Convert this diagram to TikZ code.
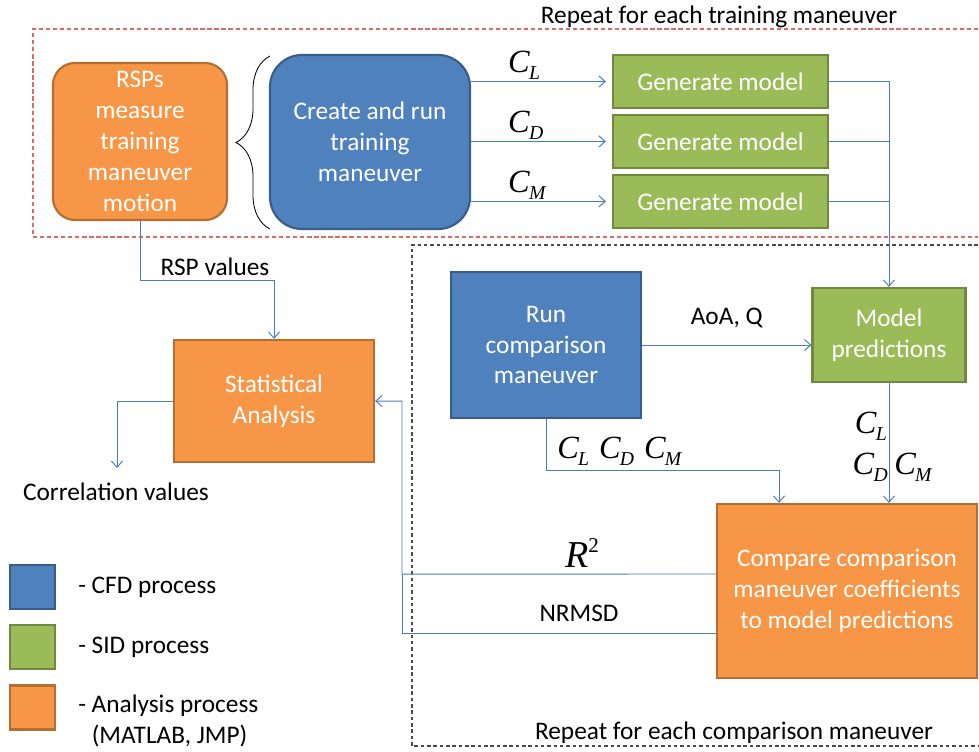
\documentclass[tikz,border=0pt]{standalone}
\usepackage{fontspec}
\setmainfont{Carlito}
\newfontfamily\tnr{Liberation Serif}
\usetikzlibrary{arrows.meta, positioning, decorations.pathreplacing}

\definecolor{cfdfill}{HTML}{4F81BD}
\definecolor{cfdline}{HTML}{385D8A}
\definecolor{sidfill}{HTML}{9BBB59}
\definecolor{sidline}{HTML}{71893F}
\definecolor{anafill}{HTML}{F79646}
\definecolor{analine}{HTML}{B66D31}
\definecolor{flowblue}{HTML}{4A7EBB}
\definecolor{loopred}{HTML}{D86A6A}
\definecolor{loopgray}{HTML}{4A4A4A}

% aerodynamic coefficient C with subscript
\newcommand\coef[1]{{\tnr\itshape\fontsize{23}{23}\selectfont C\kern-0.5pt\raisebox{-5pt}{\fontsize{14}{14}\selectfont #1}}}

\begin{document}
\begin{tikzpicture}[
      x=0.025cm, y=-0.025cm,
      every node/.style={font=\fontsize{18}{22}\selectfont},
      box/.style={rectangle, line width=1.5pt, text=white, align=center, inner sep=0pt},
      cfd/.style={box, fill=cfdfill, draw=cfdline},
      sid/.style={box, fill=sidfill, draw=sidline},
      ana/.style={box, fill=anafill, draw=analine},
      flow/.style={draw=flowblue, line width=0.7pt, -{Straight Barb[length=4.5pt,width=8pt]}},
      link/.style={draw=flowblue, line width=0.7pt},
      key/.style={minimum width=1.125cm, minimum height=1.1cm, line width=2pt},
      gen/.style={sid, minimum width=5.375cm, minimum height=1.325cm}
    ]
    \useasboundingbox (0,0) rectangle (979,751);

    % Loop frames
    \draw[loopred, line width=0.8pt, dash pattern=on 3pt off 2pt]
      (978,29) -- (33,29) -- (33,237) -- (978,237);
    \draw[loopgray, line width=0.75pt, dash pattern=on 2.5pt off 2pt]
      (978,245) -- (412,245) -- (412,746) -- (978,746);
    \node (trainlabel) at (719,17) {Repeat for each training maneuver};
    \node (cmplabel) at (734,733) {Repeat for each comparison maneuver};

    % Nodes
    \node[ana, rounded corners=0.55cm, minimum width=4.35cm, minimum height=3.925cm]
      (rsp) at (140,141.5) {RSPs\\ measure\\ training\\ maneuver\\ motion};
    \node[cfd, rounded corners=0.8cm, minimum width=5cm, minimum height=4.35cm]
      (create) at (370,142) {Create and run\\ training\\ maneuver};
    \node[gen] (gen1) at (720.5,81.5) {Generate model};
    \node[gen, below=0.12cm of gen1] (gen2) {Generate model};
    \node[gen, below=0.12cm of gen2] (gen3) {Generate model};
    \node[cfd, minimum width=4.75cm, minimum height=3.65cm]
      (runcmp) at (546,345) {Run\\ comparison\\ maneuver};
    \node[sid, minimum width=3.825cm, minimum height=2.35cm]
      (model) at (889,335) {Model\\ predictions};
    \node[ana, minimum width=5cm, minimum height=3.05cm]
      (stat) at (274,401) {Statistical\\ Analysis};
    \node[ana, minimum width=6.5cm, minimum height=4.35cm]
      (cmp) at (847,591) {Compare comparison\\ maneuver coefficients\\ to model predictions};

    % Brace between measurement and training run
    \draw[line width=0.6pt, decorate, decoration={brace, amplitude=0.85cm}]
      (270,229) -- (270,56);

    % Arrows
    \draw[flow, shorten >=0.15cm] (create.east |- gen1.west) -- (gen1.west)
      node[pos=0.25, anchor=south west, inner sep=1pt] {\coef{L}};
    \draw[flow, shorten >=0.15cm] (create.east |- gen2.west) -- (gen2.west)
      node[pos=0.25, anchor=south west, inner sep=1pt] {\coef{D}};
    \draw[flow, shorten >=0.15cm] (create.east |- gen3.west) -- (gen3.west)
      node[pos=0.25, anchor=south west, inner sep=1pt] {\coef{M}};
    \draw[flow] (gen1.east) -| (model.north);
    \draw[link] (gen2.east) -- (gen2.east -| model.north);
    \draw[link] (gen3.east) -- (gen3.east -| model.north);

    \draw[flow] (runcmp.east) -- (runcmp.east -| model.west)
      node[midway, above=0.3cm] (aoa) {AoA, Q};

    \coordinate (rspbend) at (274,280);
    \draw[flow] (rsp.south) |- (rspbend) -- (stat.north);
    \node (rsplabel) at (215,267) {RSP values};

    \coordinate (corr) at (117,468);
    \draw[flow] (stat.west) -| (corr);
    \node (corrlabel) at (116,492) {Correlation values};

    \coordinate (cbend) at (779,470);
    \draw[flow] (runcmp.south) |- (cbend) -- (cbend |- cmp.north);
    \node[anchor=south west, inner sep=0pt] (cmeas) at (557,466)
      {\coef{L}\, \coef{D}\, \coef{M}};

    \draw[flow] (model.south) -- (model.south |- cmp.north);
    \node[anchor=south east, inner sep=0pt] (cpl) at (887,441) {\coef{L}};
    \node[anchor=south east, inner sep=0pt] (cpd) at (888,482) {\coef{D}};
    \node[anchor=south west, inner sep=0pt] (cpm) at (894,482) {\coef{M}};

    \coordinate (join) at (402,574);
    \draw[flow] ([yshift=0.425cm]cmp.west) -- (join) |- (stat.east);
    \draw[link] ([yshift=-1.05cm]cmp.west) -| (join);
    \node (r2) at (582,553)
      {{\tnr\itshape\fontsize{27}{27}\selectfont R\raisebox{10pt}{\upshape\fontsize{15}{15}\selectfont 2}}};
    \node (nrmsd) at (579,613) {NRMSD};

    % Legend
    \node[key, fill=cfdfill, draw=cfdline] (keycfd) at (32.5,587) {};
    \node[key, fill=sidfill, draw=sidline] (keysid) at (32.5,647) {};
    \node[key, fill=anafill, draw=analine] (keyana) at (32.5,707.5) {};
    \node[anchor=west, inner sep=0pt] at (78,587) {- CFD process};
    \node[anchor=west, inner sep=0pt] at (78,647) {- SID process};
    \node[anchor=north west, inner sep=0pt, align=left] at (78,695)
      {- Analysis process\\ \hphantom{- }(MATLAB, JMP)};
\end{tikzpicture}
\end{document}
